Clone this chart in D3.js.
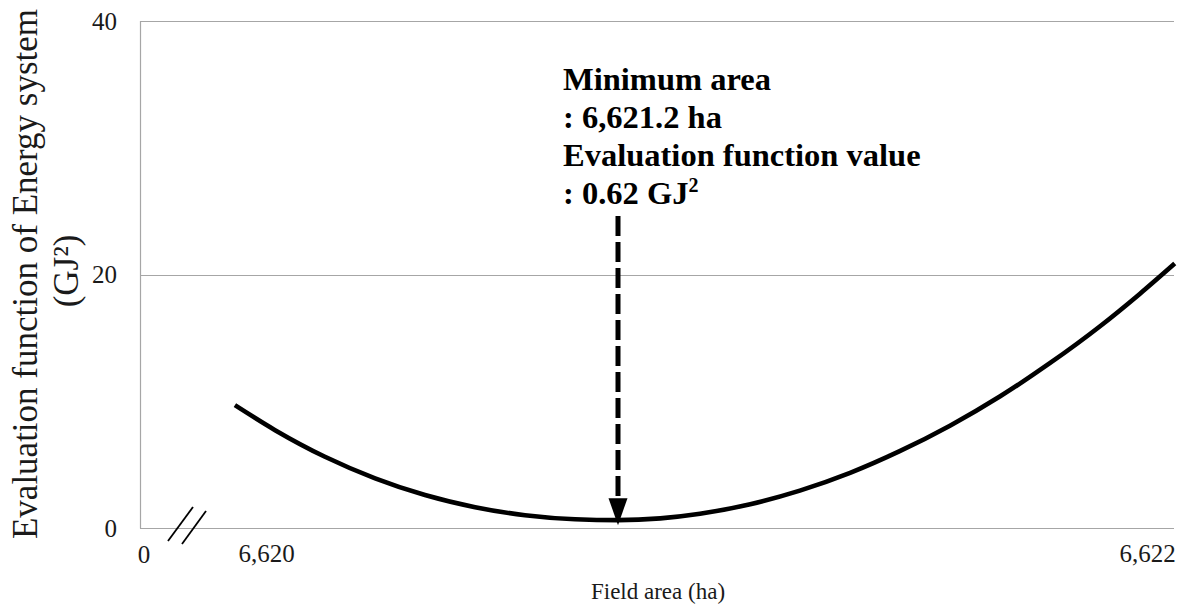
<!DOCTYPE html>
<html>
<head>
<meta charset="utf-8">
<script src="https://cdn.jsdelivr.net/npm/d3@7"></script>
<style>
  html, body { margin: 0; padding: 0; background: #fff; }
  svg { display: block; }
  text { font-family: "Liberation Serif", "Times New Roman", serif; }
</style>
</head>
<body>
<svg id="chart" width="1189" height="607"></svg>
<script>
// Field area (ha) and evaluation function (GJ^2) along the fitted curve
const fieldArea = [6619.894, 6620.031, 6620.201, 6620.372, 6620.542, 6620.713, 6620.883, 6621.054,
                   6621.2, 6621.264, 6621.324, 6621.400, 6621.475, 6621.551, 6621.626, 6621.702,
                   6621.778, 6621.853, 6621.929, 6621.989, 6622.042];
const evalValue = [9.69, 7.72, 5.62, 3.92, 2.60, 1.64, 1.01, 0.69,
                   0.62, 0.76, 1.12, 1.88, 2.95, 4.35, 6.06, 8.07,
                   10.39, 13.00, 15.92, 18.47, 20.87];

// Minimum of the curve
const minArea = 6621.2;
const minValue = 0.62;

// Axis ticks
const yTicks = [0, 20, 40];
const xTicks = [6620, 6622];
const xBreakLabel = "0";

// Texts
const yTitle = ["Evaluation function of Energy system", "(GJ²)"];
const xTitle = "Field area (ha)";

const svg = d3.select("#chart");

const plot = { left: 140, right: 1174, top: 21, bottom: 528 };

// Broken x axis: piecewise-linear scale around the minimum
const x = d3.scaleLinear()
  .domain([6620, minArea, 6622])
  .range([266, 618, 1147]);

const y = d3.scaleLinear()
  .domain([0, 40])
  .range([plot.bottom, plot.top]);

// Horizontal gridlines
svg.append("g")
  .selectAll("line")
  .data(yTicks.filter(d => d > 0))
  .join("line")
  .attr("x1", plot.left)
  .attr("x2", plot.right)
  .attr("y1", d => Math.round(y(d)) + 0.5)
  .attr("y2", d => Math.round(y(d)) + 0.5)
  .attr("stroke", "#a6a6a6")
  .attr("stroke-width", 1);

// Axis lines
svg.append("line")
  .attr("x1", plot.left + 0.5).attr("x2", plot.left + 0.5)
  .attr("y1", plot.top).attr("y2", plot.bottom + 0.5)
  .attr("stroke", "#a6a6a6").attr("stroke-width", 1.2);
svg.append("line")
  .attr("x1", plot.left).attr("x2", plot.right)
  .attr("y1", plot.bottom + 0.5).attr("y2", plot.bottom + 0.5)
  .attr("stroke", "#a6a6a6").attr("stroke-width", 1.2);

// Y axis tick labels
const yAxis = d3.axisLeft(y).tickValues(yTicks).tickSize(0).tickPadding(23);
const gy = svg.append("g").attr("transform", `translate(${plot.left},0)`).call(yAxis);
gy.select(".domain").remove();
gy.selectAll("text")
  .attr("font-family", "Liberation Serif, Times New Roman, serif")
  .attr("font-size", 25)
  .attr("fill", "#1a1a1a");

// X axis tick labels
const xAxis = d3.axisBottom(x).tickValues(xTicks).tickFormat(d3.format(",")).tickSize(0).tickPadding(16);
const gx = svg.append("g").attr("transform", `translate(0,${plot.bottom})`).call(xAxis);
gx.select(".domain").remove();
gx.selectAll("text")
  .attr("font-family", "Liberation Serif, Times New Roman, serif")
  .attr("font-size", 25)
  .attr("fill", "#1a1a1a");

// Origin label left of the axis break
svg.append("text")
  .attr("x", plot.left + 4)
  .attr("y", 563)
  .attr("text-anchor", "middle")
  .attr("font-size", 25)
  .attr("fill", "#1a1a1a")
  .text(xBreakLabel);

// Axis break marks
const breakMarks = [[168, 541, 193, 507], [182, 544, 206, 511]];
svg.append("g")
  .selectAll("line")
  .data(breakMarks)
  .join("line")
  .attr("x1", d => d[0]).attr("y1", d => d[1])
  .attr("x2", d => d[2]).attr("y2", d => d[3])
  .attr("stroke", "#000")
  .attr("stroke-width", 1.8);

// Curve
const line = d3.line()
  .x((d, i) => x(fieldArea[i]))
  .y(d => y(d))
  .curve(d3.curveMonotoneX);

svg.append("path")
  .datum(evalValue)
  .attr("d", line)
  .attr("fill", "none")
  .attr("stroke", "#000")
  .attr("stroke-width", 4.6)
  .attr("stroke-linecap", "butt");

// Dashed arrow pointing at the minimum
const ax = x(minArea);
const tipY = y(minValue) + 5;
const headH = 27, headW = 19;
svg.append("line")
  .attr("x1", ax).attr("x2", ax)
  .attr("y1", 216).attr("y2", tipY - headH + 2)
  .attr("stroke", "#000")
  .attr("stroke-width", 5)
  .attr("stroke-dasharray", "20,6");
svg.append("path")
  .attr("d", `M${ax - headW / 2},${tipY - headH} L${ax + headW / 2},${tipY - headH} L${ax},${tipY} Z`)
  .attr("fill", "#000");

// Annotation
const noteX = ax - 55;
const note = svg.append("text")
  .attr("font-size", 32.5)
  .attr("font-weight", "bold")
  .attr("fill", "#000");
note.append("tspan").attr("x", noteX).attr("y", 90).text("Minimum area");
note.append("tspan").attr("x", noteX).attr("y", 128).text(": " + d3.format(",.1f")(minArea) + " ha");
note.append("tspan").attr("x", noteX).attr("y", 166).text("Evaluation function value");
note.append("tspan").attr("x", noteX).attr("y", 204).text(": " + minValue + " GJ");
note.append("tspan").attr("font-size", 20).attr("dy", -12).text("2");

// Y axis title
const yt = svg.append("text")
  .attr("transform", "rotate(-90)")
  .attr("text-anchor", "middle")
  .attr("font-size", 35)
  .attr("fill", "#1a1a1a");
yt.append("tspan").attr("x", -274).attr("y", 37).text(yTitle[0]);
yt.append("tspan").attr("x", -271).attr("y", 78).text(yTitle[1]);

// X axis title
svg.append("text")
  .attr("x", 658)
  .attr("y", 599)
  .attr("text-anchor", "middle")
  .attr("font-size", 23)
  .attr("fill", "#1a1a1a")
  .text(xTitle);
</script>
</body>
</html>
